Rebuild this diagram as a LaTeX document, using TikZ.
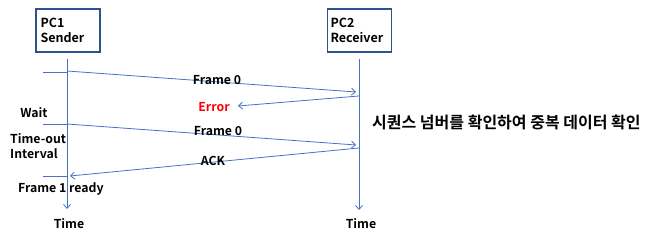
\documentclass[tikz,border=0pt]{standalone}
\usepackage{fontspec}
\setmainfont{Noto Sans CJK KR}[BoldFont={Noto Sans CJK KR Bold}]
\usetikzlibrary{arrows.meta}
\definecolor{lineblue}{HTML}{4472C4}
\definecolor{boxblue}{HTML}{2F528F}
\tikzset{
  pcbox/.style={draw=boxblue, line width=1.3pt, minimum width=64pt, minimum height=43pt, align=left, inner sep=0pt, font=\bfseries\fontsize{12.5}{15}\selectfont},
  msg/.style={draw=lineblue, line width=0.8pt, -{Straight Barb[length=4pt,width=7pt]}},
  plain/.style={draw=lineblue, line width=0.8pt},
  lbl/.style={font=\bfseries\fontsize{12.3}{14}\selectfont, inner sep=0pt},
  lblL/.style={font=\bfseries\fontsize{12.3}{15}\selectfont, inner sep=0pt, align=left},
}
\begin{document}
\begin{tikzpicture}[x=1pt,y=-1pt]
\useasboundingbox (0,0) rectangle (651,237);
% boxes
\node[pcbox] (pc1) at (68,30.5) {\hspace*{-7pt}\parbox{48pt}{PC1\\Sender}};
\node[pcbox] (pc2) at (359.5,30.5) {\hspace*{-1pt}\parbox{57pt}{PC2\\Receiver}};
% lifelines
\coordinate (l1s) at (67,59);
\coordinate (l1e) at (67,209);
\coordinate (l2s) at (359,59);
\coordinate (l2e) at (359,210);
\draw[msg] (l1s) -- (l1e);
\draw[msg] (l2s) -- (l2e);
% ticks
\coordinate (t1a) at (43,72); \coordinate (t1b) at (67,72);
\coordinate (t2a) at (43,124); \coordinate (t2b) at (67,124);
\coordinate (t3a) at (43,176); \coordinate (t3b) at (67,176);
\draw[plain] (t1a) -- (t1b);
\draw[plain] (t2a) -- (t2b);
\draw[plain] (t3a) -- (t3b);
% messages
\coordinate (f0s) at (67,71); \coordinate (f0e) at (356,92);
\coordinate (ers) at (359,96); \coordinate (ere) at (238,106);
\coordinate (f1s) at (67,124); \coordinate (f1e) at (356,145);
\coordinate (acs) at (359,148); \coordinate (ace) at (70,176);
\draw[msg] (f0s) -- (f0e);
\draw[msg] (ers) -- (ere);
\draw[msg] (f1s) -- (f1e);
\draw[msg] (acs) -- (ace);
% labels
\node[lbl] (lf0) at (217,80) {Frame 0};
\node[lbl, text=red] (ler) at (214,107) {Error};
\node[lbl] (lf1) at (218,131) {Frame 0};
\node[lbl] (lack) at (213,161) {ACK};
\node[lbl] (lwait) at (34,113) {Wait};
\node[lblL, anchor=west] (lto) at (10,146) {Time-out\\Interval};
\node[lbl, anchor=west] (lfr) at (18,189) {Frame 1 ready};
\node[lbl] (time1) at (69,224) {Time};
\node[lbl] (time2) at (361,224) {Time};
\node[font=\bfseries\fontsize{16}{18}\selectfont, inner sep=0pt, anchor=west] (kr) at (372,122) {시퀀스 넘버를 확인하여 중복 데이터 확인};
\end{tikzpicture}
\end{document}
